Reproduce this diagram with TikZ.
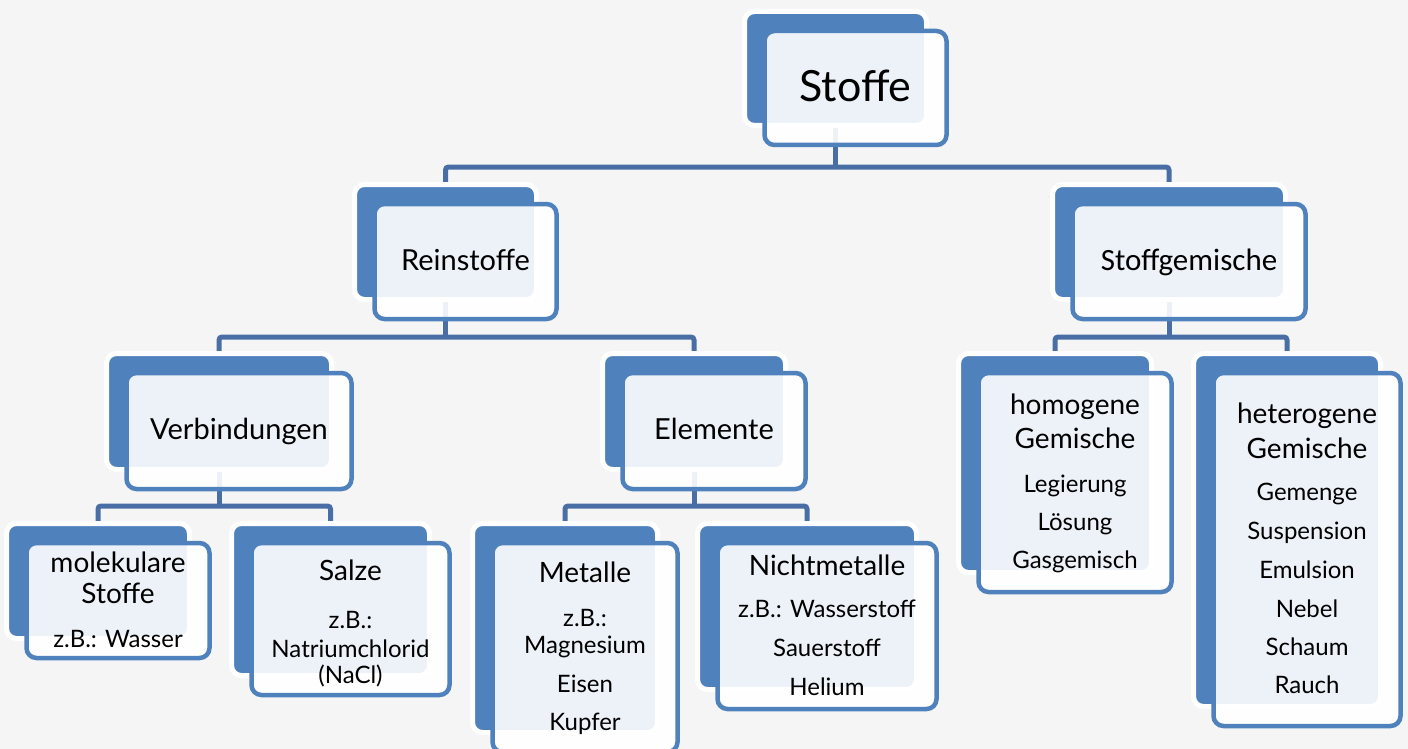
\documentclass[tikz,border=0pt]{standalone}
\usepackage{fontspec}
\setmainfont{Lato}
\newfontfamily\carlito{Carlito}
\usetikzlibrary{backgrounds}
\definecolor{boxblue}{RGB}{79,129,189}
\definecolor{connblue}{RGB}{72,110,165}
\definecolor{bgcol}{RGB}{245,245,245}
\tikzset{
  backbox/.style={draw=white, line width=5pt, fill=boxblue, rounded corners=10pt, inner sep=0pt},
  frontbox/.style={draw=boxblue, line width=4.5pt, fill=white, fill opacity=0.9, rounded corners=10pt, inner sep=0pt},
  conn/.style={draw=connblue, line width=5pt, rounded corners=3pt},
  bigtxt/.style={anchor=base, inner sep=0pt, font=\fontsize{43}{43}\selectfont},
  ttl/.style={anchor=base, inner sep=0pt, font=\fontsize{29}{29}\selectfont},
  subttl/.style={anchor=base, inner sep=0pt, font=\fontsize{28}{28}\selectfont},
  itm/.style={anchor=base, inner sep=0pt, font=\fontsize{24}{24}\selectfont},
  calib/.style={anchor=base, inner sep=0pt, font=\carlito\fontsize{31}{31}\selectfont},
}
\newcommand{\dualbox}[5]{%
  \node[backbox, minimum width=#4, minimum height=#5] (#1-b) at (#2,#3) {};
  \node[frontbox, minimum width=#4, minimum height=#5] (#1-f) at ({#2+20},{#3+19.5}) {};
}
\begin{document}
\begin{tikzpicture}[x=1pt,y=-1pt]
\useasboundingbox (0,0) rectangle (1408,749);
% boxes
\dualbox{stoffe}{835.5}{68.5}{182}{114}
\dualbox{rein}{445.5}{242}{182}{115}
\dualbox{gem}{1169}{242}{233}{115}
\dualbox{verb}{219}{411.5}{225}{116}
\dualbox{elem}{694}{411.5}{183}{116}
\dualbox{mol}{98}{581}{183}{115}
\dualbox{salz}{330.5}{599.5}{198}{152}
\dualbox{met}{565}{628}{185}{209}
\dualbox{nmet}{807}{606.5}{219}{166}
\dualbox{hom}{1055}{463}{193}{219}
\dualbox{het}{1287}{530}{187}{353}
% bus levels
\coordinate (bus0) at (0,167);
\coordinate (bus1) at (0,337);
\coordinate (bus2) at (0,506);
\begin{pgfonlayer}{background}
  \fill[bgcol] (0,0) rectangle (1408,749);
  \draw[conn] (stoffe-b.south) -- (stoffe-b.south |- bus0);
  \draw[conn] (rein-b.north) |- (stoffe-b.south |- bus0) -| (gem-b.north);
  \draw[conn] (rein-b.south) -- (rein-b.south |- bus1);
  \draw[conn] (verb-b.north) |- (rein-b.south |- bus1) -| (elem-b.north);
  \draw[conn] (gem-b.south) -- (gem-b.south |- bus1);
  \draw[conn] (hom-b.north) |- (gem-b.south |- bus1) -| (het-b.north);
  \draw[conn] (verb-b.south) -- (verb-b.south |- bus2);
  \draw[conn] (mol-b.north) |- (verb-b.south |- bus2) -| (salz-b.north);
  \draw[conn] (elem-b.south) -- (elem-b.south |- bus2);
  \draw[conn] (met-b.north) |- (elem-b.south |- bus2) -| (nmet-b.north);
\end{pgfonlayer}
% texts
\node[bigtxt] (t-stoffe) at (855.5,102) {Stoffe};
\node[ttl] (t-rein) at (465.5,270) {Reinstoffe};
\node[calib] (t-gem) at (1189,270) {Stoffgemische};
\node[ttl] (t-verb) at (239,439) {Verbindungen};
\node[ttl] (t-elem) at (714,439) {Elemente};
% molekulare Stoffe
\node[subttl] (t-mol1) at (118,572) {molekulare};
\node[subttl] (t-mol2) at (118,603) {Stoffe};
\node[itm] (t-mol3) at (118,647) {z.B.: Wasser};
% Salze
\node[subttl] (t-salz1) at (350.5,580) {Salze};
\node[itm] (t-salz2) at (350.5,628) {z.B.:};
\node[itm] (t-salz3) at (350.5,657) {Natriumchlorid};
\node[itm] (t-salz4) at (350.5,683) {(NaCl)};
% Metalle
\node[subttl] (t-met1) at (585,582) {Metalle};
\node[itm] (t-met2) at (585,626) {z.B.:};
\node[itm] (t-met3) at (585,653) {Magnesium};
\node[itm] (t-met4) at (585,692) {Eisen};
\node[itm] (t-met5) at (585,730) {Kupfer};
% Nichtmetalle
\node[subttl] (t-nmet1) at (827,575) {Nichtmetalle};
\node[itm] (t-nmet2) at (827,617) {z.B.: Wasserstoff};
\node[itm] (t-nmet3) at (827,656) {Sauerstoff};
\node[itm] (t-nmet4) at (827,695) {Helium};
% homogene
\node[subttl] (t-hom1) at (1075,414) {homogene};
\node[subttl] (t-hom2) at (1075,448) {Gemische};
\node[itm] (t-hom3) at (1075,492) {Legierung};
\node[itm] (t-hom4) at (1075,530) {Lösung};
\node[itm] (t-hom5) at (1075,568) {Gasgemisch};
% heterogene
\node[subttl] (t-het1) at (1307,423) {heterogene};
\node[subttl] (t-het2) at (1307,458) {Gemische};
\node[itm] (t-het3) at (1307,500) {Gemenge};
\node[itm] (t-het4) at (1307,539) {Suspension};
\node[itm] (t-het5) at (1307,578) {Emulsion};
\node[itm] (t-het6) at (1307,617) {Nebel};
\node[itm] (t-het7) at (1307,655) {Schaum};
\node[itm] (t-het8) at (1307,693) {Rauch};
\end{tikzpicture}
\end{document}
